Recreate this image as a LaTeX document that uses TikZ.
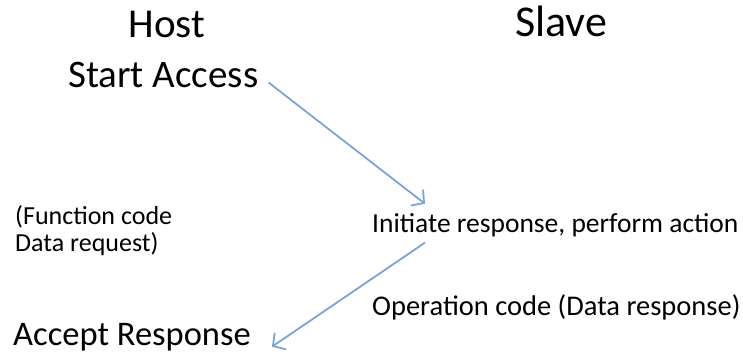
\documentclass[tikz,border=0pt]{standalone}
\usepackage{fontspec}
\setmainfont{Carlito}
\usetikzlibrary{arrows.meta,positioning}

\definecolor{flowblue}{RGB}{122,164,214}

\begin{document}
\begin{tikzpicture}[x=1pt,y=1pt,inner sep=0pt,
			head/.style={anchor=base,font=\fontsize{41}{44}\selectfont},
			big/.style={anchor=base west,font=\fontsize{39}{42}\selectfont},
			txt/.style={anchor=base west,align=left,font=\fontsize{27.5}{30}\selectfont},
			flow/.style={draw=flowblue,line width=1.8pt,-{Straight Barb[length=9pt,width=20pt,line width=1.8pt]}}]
			\useasboundingbox (0,0) rectangle (743,354);
			\node [head] (host) at (167,316) {Host};
			\node [head,font=\fontsize{44}{48}\selectfont] (slave) at (561,317) {Slave};
			\node [big] (start) at (68,266) {Start Access};
			\node [txt,font=\fontsize{26}{26.5}\selectfont] (func) at (15,103) {(Function code\\Data request)};
			\node [txt] (init) at (372,122) {Initiate response, perform action};
			\node [txt,font=\fontsize{28.5}{30}\selectfont] (opcode) at (372,39) {Operation code (Data response)};
			\node [big,font=\fontsize{34.5}{40}\selectfont] (accept) at (13,9) {Accept Response};
			\draw [flow] ([shift={(10,-7)}]start.east) -- ([shift={(53,9)}]init.north west);
			\draw [flow] ([shift={(53,-6)}]init.south west) -- ([shift={(21,4)}]accept.south east);
		\end{tikzpicture}
\end{document}
